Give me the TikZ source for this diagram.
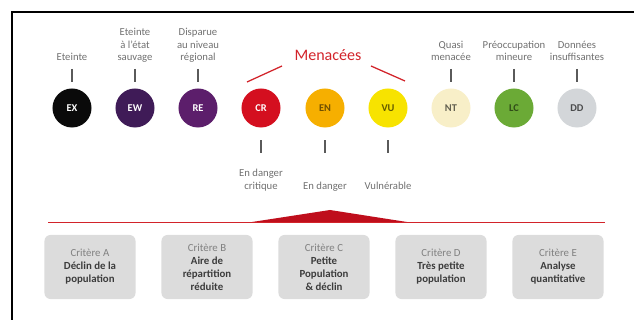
\documentclass[tikz,border=0pt]{standalone}
\usepackage{fontspec}
\setmainfont{Carlito}
\usetikzlibrary{positioning}

\definecolor{menred}{HTML}{D2232A}
\definecolor{labelgray}{HTML}{707070}
\definecolor{tickgray}{HTML}{5A5A5A}
\definecolor{boxgray}{HTML}{DCDCDC}
\definecolor{critgray}{HTML}{808080}
\definecolor{critdark}{HTML}{3C3C3C}
\definecolor{cEX}{HTML}{0A0A0A}
\definecolor{cEW}{HTML}{3F1B57}
\definecolor{cRE}{HTML}{5C1E6B}
\definecolor{cCR}{HTML}{D40F1F}
\definecolor{cEN}{HTML}{F6AF00}
\definecolor{cVU}{HTML}{F7E300}
\definecolor{cNT}{HTML}{F8EFC8}
\definecolor{cLC}{HTML}{6BAA36}
\definecolor{cDD}{HTML}{D3D6D9}

\tikzset{
  status/.style={circle, minimum size=0.975cm, inner sep=0pt,
    font=\fontsize{7.4}{8}\selectfont\bfseries},
  toplabel/.style={anchor=south, align=center, text=labelgray, inner sep=1pt,
    text depth=0.5ex, font=\fontsize{7.6}{9.2}\selectfont},
  botlabel/.style={anchor=north, align=center, text=labelgray, inner sep=1pt,
    text height=1.5ex, font=\fontsize{7.6}{9.2}\selectfont},
  uptick/.style={draw=tickgray, line width=0.8pt, shorten <=0.07cm, shorten >=0.16cm},
  downtick/.style={draw=tickgray, line width=0.8pt, shorten <=0.31cm, shorten >=0.62cm},
  critere/.style={fill=boxgray, rounded corners=0.15cm, minimum width=2.275cm,
    minimum height=1.6cm, align=center, inner sep=2pt, text=critdark,
    font=\fontsize{7.7}{9.2}\selectfont\bfseries}
}

\begin{document}
\begin{tikzpicture}[x=0.025cm, y=-0.025cm]
  \useasboundingbox (0,0) rectangle (634,320);
  % frame
  \draw[line width=1.4pt] (12,320) -- (12,12) -- (634,12);

  % categories
  \node[status, fill=cEX, text=white] (ex) at (72,108) {EX};
  \node[status, fill=cEW, text=white] (ew) at (135,108) {EW};
  \node[status, fill=cRE, text=white] (re) at (198,108) {RE};
  \node[status, fill=cCR, text=white] (cr) at (261,108) {CR};
  \node[status, fill=cEN, text=cEN!45!black] (en) at (325,108) {EN};
  \node[status, fill=cVU, text=cVU!40!black] (vu) at (388,108) {VU};
  \node[status, fill=cNT, text=cNT!40!black] (nt) at (451,108) {NT};
  \node[status, fill=cLC, text=cLC!45!black] (lc) at (514,108) {LC};
  \node[status, fill=cDD, text=cDD!35!black] (dd) at (577,108) {DD};

  % labels above
  \node[toplabel] (lbl-ex) at (72,66) {Eteinte};
  \node[toplabel] (lbl-ew) at (135,66) {Eteinte\\à l'état\\sauvage};
  \node[toplabel] (lbl-re) at (198,66) {Disparue\\au niveau\\régional};
  \node[toplabel] (lbl-nt) at (451,66) {Quasi\\menacée};
  \node[toplabel] (lbl-lc) at (514,66) {Préoccupation\\mineure};
  \node[toplabel] (lbl-dd) at (577,66) {Données\\insuffisantes};
  \draw[uptick] (lbl-ex.south) -- (ex.north);
  \draw[uptick] (lbl-ew.south) -- (ew.north);
  \draw[uptick] (lbl-re.south) -- (re.north);
  \draw[uptick] (lbl-nt.south) -- (nt.north);
  \draw[uptick] (lbl-lc.south) -- (lc.north);
  \draw[uptick] (lbl-dd.south) -- (dd.north);

  % labels below
  \node[botlabel] (lbl-cr) at (261,178) {En danger\\critique};
  \node[botlabel] (lbl-en) at (325,178) {En danger};
  \node[botlabel] (lbl-vu) at (388,178) {Vulnérable};
  \draw[downtick] (cr.south) -- (lbl-cr.north);
  \draw[downtick] (en.south) -- (lbl-en.north);
  \draw[downtick] (vu.south) -- (lbl-vu.north);

  % threatened group
  \node[text=menred, font=\fontsize{11.4}{13}\selectfont] (menacees) at (328,55) {Menacées};
  \coordinate (men-l1) at (247,82);
  \coordinate (men-l2) at (282,66);
  \coordinate (men-r1) at (371,66);
  \coordinate (men-r2) at (405,81);
  \draw[menred, line width=0.9pt] (men-l1) -- (men-l2);
  \draw[menred, line width=0.9pt] (men-r1) -- (men-r2);

  % criteria bar
  \draw[menred, line width=0.6pt] (48,222) -- (605,222);
  \fill[cCR!90!black] (252,222) -- (330,210) -- (407,222) -- cycle;

  \node[critere] (crit-a) at (90,267) {\textcolor{critgray}{\mdseries Critère A}\\Déclin de la\\population};
  \node[critere] (crit-b) at (207,267) {\textcolor{critgray}{\mdseries Critère B}\\Aire de\\répartition\\réduite};
  \node[critere] (crit-c) at (324,267) {\textcolor{critgray}{\mdseries Critère C}\\Petite\\Population\\\& déclin};
  \node[critere] (crit-d) at (441,267) {\textcolor{critgray}{\mdseries Critère D}\\Très petite\\population};
  \node[critere] (crit-e) at (558,267) {\textcolor{critgray}{\mdseries Critère E}\\Analyse\\quantitative};
\end{tikzpicture}
\end{document}
